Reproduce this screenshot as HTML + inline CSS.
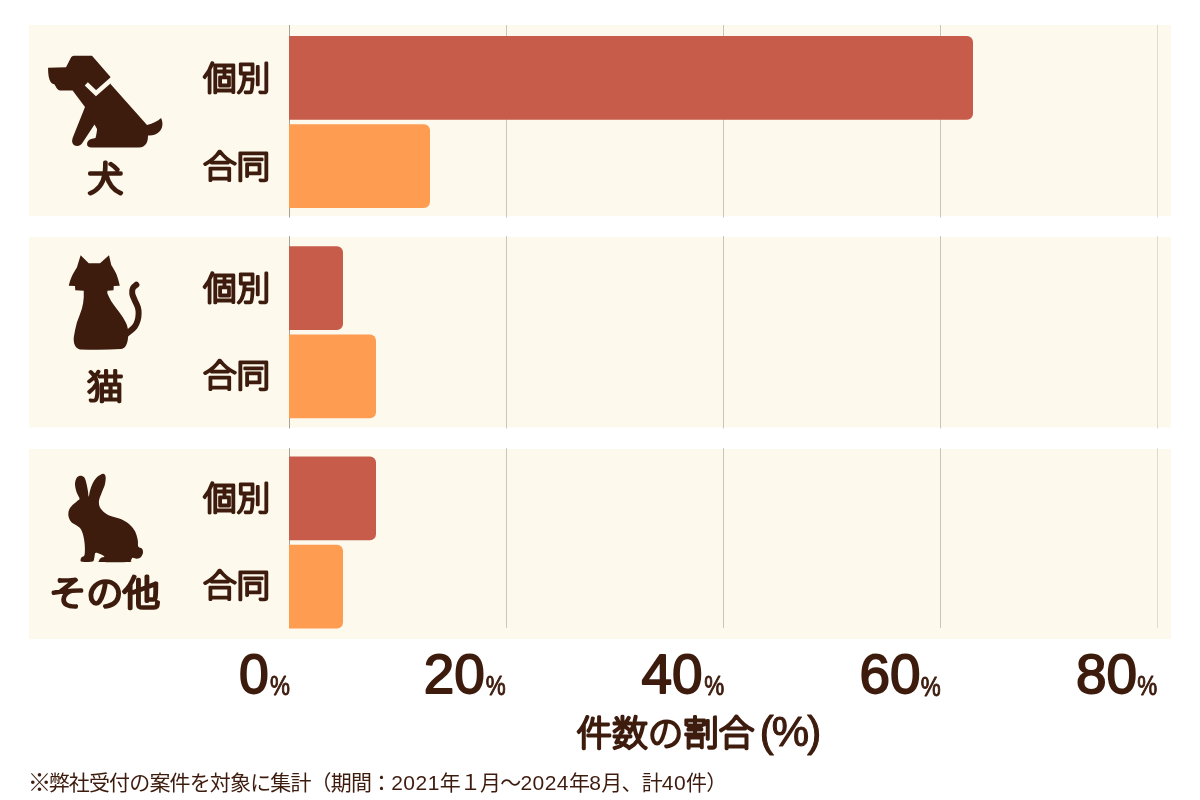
<!DOCTYPE html>
<html lang="ja">
<head>
<meta charset="utf-8">
<title>件数の割合</title>
<style>
html,body{margin:0;padding:0;background:#fff;}
body{width:1200px;height:800px;overflow:hidden;}
svg{display:block;}
text{font-family:"Liberation Sans","Noto Sans CJK JP",sans-serif;fill:#3d1c0e;}
.b{font-weight:700;}
.r{font-weight:100;stroke:#3d1c0e;stroke-linejoin:round;stroke-linecap:round;}
.dg{font-weight:400;stroke:#3d1c0e;stroke-width:1.8px;stroke-linejoin:round;}
.pc{font-weight:400;stroke:#3d1c0e;stroke-width:0.9px;stroke-linejoin:round;}
.par{font-weight:400;stroke:#3d1c0e;stroke-width:1.1px;stroke-linejoin:round;}
.lab{stroke-width:2.85px;}
.cat{stroke-width:3.7px;}
.cat2{stroke-width:3px;}
.ttl{stroke-width:3.05px;}
</style>
</head>
<body>
<svg width="1200" height="800" viewBox="0 0 1200 800">
<rect x="29" y="25" width="1142" height="191" fill="#fdf9ed"/>
<rect x="29" y="237" width="1142" height="190.5" fill="#fdf9ed"/>
<rect x="29" y="449" width="1142" height="190" fill="#fdf9ed"/>
<rect x="289" y="25" width="1" height="192.5" fill="#a6a39c"/>
<rect x="289" y="236" width="1" height="192.5" fill="#a6a39c"/>
<rect x="289" y="448" width="1" height="179.8" fill="#a6a39c"/>
<rect x="506" y="25" width="1" height="192.5" fill="#cac6bb"/>
<rect x="506" y="236" width="1" height="192.5" fill="#cac6bb"/>
<rect x="506" y="448" width="1" height="179.8" fill="#cac6bb"/>
<rect x="723" y="25" width="1" height="192.5" fill="#c9c5bb"/>
<rect x="723" y="236" width="1" height="192.5" fill="#c9c5bb"/>
<rect x="723" y="448" width="1" height="179.8" fill="#c9c5bb"/>
<rect x="940" y="25" width="1" height="192.5" fill="#c9c5bb"/>
<rect x="940" y="236" width="1" height="192.5" fill="#c9c5bb"/>
<rect x="940" y="448" width="1" height="179.8" fill="#c9c5bb"/>
<rect x="1157" y="25" width="1" height="192.5" fill="#dfdbd0"/>
<rect x="1157" y="236" width="1" height="192.5" fill="#dfdbd0"/>
<rect x="1157" y="448" width="1" height="179.8" fill="#dfdbd0"/>
<path d="M289 36 H967 A6 6 0 0 1 973 42 V113.8 A6 6 0 0 1 967 119.8 H289 Z" fill="#c75c4b"/>
<path d="M289 124.2 H424 A6 6 0 0 1 430 130.2 V202 A6 6 0 0 1 424 208 H289 Z" fill="#fe9c52"/>
<path d="M289 246.2 H337 A6 6 0 0 1 343 252.2 V324.1 A6 6 0 0 1 337 330.1 H289 Z" fill="#c75c4b"/>
<path d="M289 334.6 H370 A6 6 0 0 1 376 340.6 V412.3 A6 6 0 0 1 370 418.3 H289 Z" fill="#fe9c52"/>
<path d="M289 456.5 H370 A6 6 0 0 1 376 462.5 V534.3 A6 6 0 0 1 370 540.3 H289 Z" fill="#c75c4b"/>
<path d="M289 544.7 H337 A6 6 0 0 1 343 550.7 V622.4 A6 6 0 0 1 337 628.4 H289 Z" fill="#fe9c52"/>
<path d="M74 55.8 L92 55.8 L110.5 77 L110.5 84 L147 125 C153 123.5 158 121 161 118 C163.5 123 162.5 128 160 131 C157 134.5 152 136 148 135.5 C148 139 147.5 142 146 144 C144 146.5 142 147.5 139 147.5 L91.5 147.5 C88.5 147.5 87 146 87 144 C87 141.5 89 139.5 91 139 L95.5 138 C96.5 134 97 131 97 129 L94.5 124.5 L83 142 C81.5 144.5 79.5 146 77 146 C73.5 146 71.5 143 72.3 139.5 C72.5 138.5 72.6 138 73 137 L85 107 L72.6 90.4 L60.5 90.4 C58.2 90.4 56.8 88.8 55.6 86.2 L54.3 84.3 C52.8 84 51.6 83.3 50.8 82.3 C48.6 79.2 48.1 74.5 48.05 67.8 L66 67.15 L70.5 58.5 C71.3 56.8 72.3 55.8 74 55.8 Z" fill="#3d1c0e"/>
<path d="M86.3 83.8 L96 93.2 L113 78.3" fill="none" stroke="#fdf9ed" stroke-width="4.5" stroke-linejoin="miter"/>
<g transform="translate(55 250) scale(0.125)"><path d="M205 42 L270 105 L360 105 L432 42 L450 120 C465 145 480 168 490 190 C502 220 512 255 518 285 L470 288 L468 322 L420 325 C418 335 418 340 420 350 C430 372 440 392 450 410 C475 448 505 482 530 520 C550 548 565 575 575 600 C582 620 585 640 586 660 C587 700 582 735 570 760 C562 778 548 788 530 792 C420 800 300 800 200 795 C178 790 165 778 158 760 C150 740 149 720 150 700 C155 660 165 620 175 580 C188 545 203 508 215 470 C223 440 228 410 230 380 L230 325 L162 322 L160 288 L110 285 C116 258 124 234 135 210 C146 186 162 162 175 140 Z" fill="#3d1c0e"/><path d="M651 278C646.33 282.5 628.5 293 623 305C617.5 317 615.5 333.67 618 350C620.5 366.33 630.5 384.83 638 403C645.5 421.17 657.83 441.5 663 459C668.17 476.5 669.33 490.5 669 508C668.67 525.5 666.17 546.5 661 564C655.83 581.5 649.5 597.83 638 613C626.5 628.17 604.17 644.5 592 655C579.83 665.5 569.5 672.5 565 676" fill="none" stroke="#3d1c0e" stroke-width="48" stroke-linecap="round"/></g>
<g transform="translate(55 465) scale(0.125)"><path d="M205 85C215 85 227.17 89.17 235 100C242.83 110.83 247.33 132.5 252 150C256.67 167.5 260 188 263 205C266 222 267.17 252 270 252C272.83 252 275 222 280 205C285 188 290.83 167.83 300 150C309.17 132.17 320.83 111.33 335 98C349.17 84.67 373.33 70.5 385 70C396.67 69.5 402.83 80 405 95C407.17 110 403.5 138.33 398 160C392.5 181.67 379.67 204.17 372 225C364.33 245.83 354.33 266.67 352 285C349.67 303.33 351.67 320 358 335C364.33 350 376.33 363.33 390 375C403.67 386.67 418.33 395.83 440 405C461.67 414.17 495 419.17 520 430C545 440.83 570 453.33 590 470C610 486.67 628 508.33 640 530C652 551.67 657.67 579.67 662 600C666.33 620.33 660.5 640.67 666 652C671.5 663.33 688.67 660 695 668C701.33 676 705.17 688.83 704 700C702.83 711.17 696.17 726.83 688 735C679.83 743.17 666 747.83 655 749C644 750.17 629.83 740.17 622 742C614.17 743.83 613.67 754.33 608 760C602.33 765.67 629.33 773.33 588 776C546.67 778.67 399.33 777.83 360 776C320.67 774.17 351.17 770.17 352 765C352.83 759.83 357.83 750.67 365 745C372.17 739.33 401.17 738.17 395 731C388.83 723.83 341.33 700.5 328 702C314.67 703.5 319.67 728.33 315 740C310.33 751.67 316.67 766.5 300 772C283.33 777.5 230.83 775.67 215 773C199.17 770.33 205 762.17 205 756C205 749.83 209.83 742 215 736C220.17 730 232.17 736 236 720C239.83 704 239.83 666.67 238 640C236.17 613.33 230.83 582 225 560C219.17 538 212.17 521 203 508C193.83 495 182.17 490.83 170 482C157.83 473.17 140.33 467 130 455C119.67 443 111 425.83 108 410C105 394.17 106.67 375 112 360C117.33 345 129 332.17 140 320C151 307.83 168.67 295.67 178 287C187.33 278.33 197 280 196 268C195 256 178 234.67 172 215C166 195.33 159.5 169.17 160 150C160.5 130.83 167.5 110.83 175 100C182.5 89.17 195 85 205 85Z" fill="#3d1c0e"/></g>
<text transform="translate(105.25 190.8) scale(0.98 0.94)" font-size="36" class="r cat" text-anchor="middle">犬</text>
<text transform="translate(105.3 398.9) scale(1.03 0.95)" font-size="36" class="r cat2" text-anchor="middle">猫</text>
<text transform="translate(104.6 606.2) scale(1.027 0.972)" font-size="36" class="r cat" text-anchor="middle">その他</text>
<text transform="translate(236.7 89.5) scale(1 0.985)" font-size="33.5" class="r lab" text-anchor="middle">個別</text>
<text transform="translate(236.7 299.5) scale(1 0.985)" font-size="33.5" class="r lab" text-anchor="middle">個別</text>
<text transform="translate(236.7 509.5) scale(1 0.985)" font-size="33.5" class="r lab" text-anchor="middle">個別</text>
<text transform="translate(236.6 178.25) scale(1.004 0.965)" font-size="33.5" class="r lab" text-anchor="middle">合同</text>
<text transform="translate(236.6 386.55) scale(1.004 0.965)" font-size="33.5" class="r lab" text-anchor="middle">合同</text>
<text transform="translate(236.6 596.55) scale(1.004 0.965)" font-size="33.5" class="r lab" text-anchor="middle">合同</text>
<text transform="translate(253.8 693.1) scale(0.955 0.978)" text-anchor="middle" class="dg" font-size="56">0</text>
<text transform="translate(280 694.8) scale(0.88 1.1)" text-anchor="middle" class="pc" font-size="25.5">%</text>
<text transform="translate(454.35 693.2) scale(0.98 0.978)" text-anchor="middle" class="dg" font-size="56">20</text>
<text transform="translate(495.6 695.1) scale(0.88 1.1)" text-anchor="middle" class="pc" font-size="25.5">%</text>
<text transform="translate(672 693.2) scale(0.98 0.978)" text-anchor="middle" class="dg" font-size="56">40</text>
<text transform="translate(714.3 695.1) scale(0.88 1.1)" text-anchor="middle" class="pc" font-size="25.5">%</text>
<text transform="translate(890 693.4) scale(0.98 0.978)" text-anchor="middle" class="dg" font-size="56">60</text>
<text transform="translate(930.6 695.6) scale(0.88 1.1)" text-anchor="middle" class="pc" font-size="25.5">%</text>
<text transform="translate(1106.4 692.5) scale(0.98 0.978)" text-anchor="middle" class="dg" font-size="56">80</text>
<text transform="translate(1147.2 695.1) scale(0.88 1.1)" text-anchor="middle" class="pc" font-size="25.5">%</text>
<text transform="translate(665.5 746) scale(0.975 0.965)" font-size="36.5" class="r ttl" text-anchor="middle">件数の割合</text>
<text x="789.5" y="746.3" font-size="42" class="par" text-anchor="middle" letter-spacing="-2">(%)</text>
<text x="39.5" y="790.6" font-size="23.5" text-anchor="middle" style="font-weight:400">※</text>
<text x="48.65" y="789.7" font-size="21" style="font-weight:400"><tspan letter-spacing="-0.85">弊社受付の案件を対象に集計（期間：</tspan><tspan letter-spacing="0.47">2021</tspan><tspan letter-spacing="-0.85">年１月～</tspan><tspan letter-spacing="0.47">2024</tspan><tspan letter-spacing="-0.85">年</tspan><tspan letter-spacing="0.47">8</tspan><tspan letter-spacing="-0.85">月、計</tspan><tspan letter-spacing="0.47">40</tspan><tspan letter-spacing="-0.85">件）</tspan></text>
</svg>
</body>
</html>
